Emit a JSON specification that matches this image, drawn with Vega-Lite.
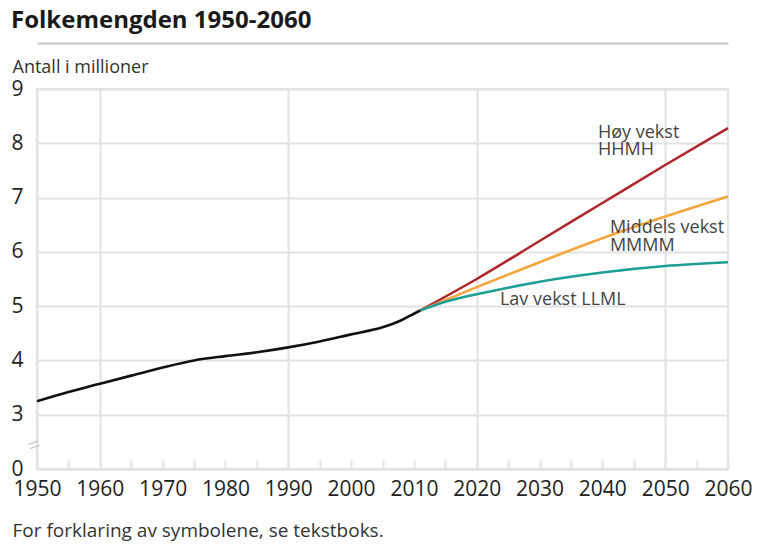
{
  "$schema": "https://vega.github.io/schema/vega-lite/v6.json",
  "width": 691,
  "height": 380,
  "autosize": {"type": "none"},
  "padding": {"left": 37, "top": 89, "right": 30, "bottom": 79},
  "background": "white",
  "title": {
    "text": "Folkemengden 1950-2060",
    "anchor": "start",
    "frame": "group",
    "dx": -26,
    "dy": 23,
    "offset": 14,
    "baseline": "alphabetic",
    "fontSize": 24,
    "fontWeight": "bold",
    "font": "Open Sans",
    "color": "#1a1a1a"
  },
  "config": {
    "font": "Open Sans",
    "view": {"stroke": "#e2e2e2", "strokeWidth": 2}
  },
  "resolve": {"axis": {"x": "independent"}},
  "layer": [
    {
      "data": {
        "values": [
          {"year": 2011, "value": 4.92, "series": "Høy"},
          {"year": 2020, "value": 5.5, "series": "Høy"},
          {"year": 2030, "value": 6.2, "series": "Høy"},
          {"year": 2040, "value": 6.9, "series": "Høy"},
          {"year": 2050, "value": 7.6, "series": "Høy"},
          {"year": 2060, "value": 8.28, "series": "Høy"},
          {"year": 2011, "value": 4.92, "series": "Middels"},
          {"year": 2020, "value": 5.35, "series": "Middels"},
          {"year": 2030, "value": 5.81, "series": "Middels"},
          {"year": 2040, "value": 6.25, "series": "Middels"},
          {"year": 2050, "value": 6.65, "series": "Middels"},
          {"year": 2060, "value": 7.02, "series": "Middels"},
          {"year": 2011, "value": 4.92, "series": "Lav"},
          {"year": 2015, "value": 5.08, "series": "Lav"},
          {"year": 2020, "value": 5.22, "series": "Lav"},
          {"year": 2025, "value": 5.34, "series": "Lav"},
          {"year": 2030, "value": 5.45, "series": "Lav"},
          {"year": 2040, "value": 5.62, "series": "Lav"},
          {"year": 2050, "value": 5.74, "series": "Lav"},
          {"year": 2060, "value": 5.81, "series": "Lav"},
          {"year": 1950, "value": 3.25, "series": "Registrert"},
          {"year": 1955, "value": 3.42, "series": "Registrert"},
          {"year": 1960, "value": 3.57, "series": "Registrert"},
          {"year": 1965, "value": 3.72, "series": "Registrert"},
          {"year": 1970, "value": 3.87, "series": "Registrert"},
          {"year": 1975, "value": 4.0, "series": "Registrert"},
          {"year": 1980, "value": 4.08, "series": "Registrert"},
          {"year": 1985, "value": 4.15, "series": "Registrert"},
          {"year": 1990, "value": 4.24, "series": "Registrert"},
          {"year": 1995, "value": 4.35, "series": "Registrert"},
          {"year": 2000, "value": 4.48, "series": "Registrert"},
          {"year": 2005, "value": 4.61, "series": "Registrert"},
          {"year": 2008, "value": 4.74, "series": "Registrert"},
          {"year": 2010, "value": 4.86, "series": "Registrert"},
          {"year": 2011, "value": 4.92, "series": "Registrert"}
        ]
      },
      "mark": {"type": "line", "strokeWidth": 2.6, "interpolate": "monotone"},
      "encoding": {
        "x": {
          "field": "year",
          "type": "quantitative",
          "scale": {"domain": [1950, 2060], "nice": false, "zero": false},
          "axis": {
            "values": [1950, 1955, 1960, 1965, 1970, 1975, 1980, 1985, 1990, 1995, 2000, 2005, 2010, 2015, 2020, 2025, 2030, 2035, 2040, 2045, 2050, 2055, 2060],
            "labelExpr": "datum.value % 10 === 0 ? datum.label : ''",
            "format": "d",
            "grid": true,
            "gridColor": "#e2e2e2",
            "gridWidth": 2,
            "gridOpacity": {"condition": {"test": "(datum.value - 1960) % 30 === 0", "value": 1}, "value": 0},
            "tickSize": -9,
            "tickColor": "#e2e2e2",
            "tickWidth": 2,
            "domainColor": "#e2e2e2",
            "domainWidth": 2,
            "labelFontSize": 21,
            "labelColor": "#222222",
            "labelPadding": 18,
            "labelFlush": false,
            "labelOverlap": false,
            "labelBound": false,
            "title": "For forklaring av symbolene, se tekstboks.",
            "titleX": -25,
            "titleY": 67,
            "titleAlign": "left",
            "titleAnchor": "start",
            "titleBaseline": "alphabetic",
            "titleFontWeight": "normal",
            "titleFontSize": 19,
            "titleColor": "#333333"
          }
        },
        "y": {
          "field": "value",
          "type": "quantitative",
          "scale": {"domain": [2, 9], "nice": false, "zero": false},
          "axis": {
            "values": [2, 3, 4, 5, 6, 7, 8, 9],
            "format": "d",
            "labelExpr": "datum.value === 2 ? '0' : datum.label",
            "ticks": false,
            "domainColor": "#e2e2e2",
            "domainWidth": 2,
            "gridColor": "#e2e2e2",
            "gridWidth": 2,
            "labelFontSize": 21,
            "labelColor": "#222222",
            "labelPadding": 14,
            "labelFlush": false,
            "labelOverlap": false,
            "title": "Antall i millioner",
            "titleAngle": 0,
            "titleAlign": "left",
            "titleAnchor": "start",
            "titleBaseline": "alphabetic",
            "titleX": -25,
            "titleY": -17,
            "titleFontSize": 18,
            "titleFontWeight": "normal",
            "titleColor": "#333333"
          }
        },
        "color": {
          "field": "series",
          "type": "nominal",
          "scale": {"domain": ["Høy", "Middels", "Lav", "Registrert"], "range": ["#b0262c", "#f5a53a", "#1f9e97", "#111111"]},
          "legend": null
        }
      }
    },
    {
      "data": {
        "values": [
          {"label": "Høy vekst", "year": 2039.3, "value": 8.1},
          {"label": "HHMH", "year": 2039.3, "value": 7.79},
          {"label": "Middels vekst", "year": 2041.2, "value": 6.35},
          {"label": "MMMM", "year": 2041.2, "value": 6.02},
          {"label": "Lav vekst LLML", "year": 2023.7, "value": 5.02}
        ]
      },
      "mark": {"type": "text", "align": "left", "baseline": "alphabetic", "fontSize": 18, "color": "#444444"},
      "encoding": {
        "x": {
          "field": "year",
          "type": "quantitative",
          "axis": {
            "orient": "top",
            "offset": 46,
            "labels": false,
            "ticks": false,
            "grid": false,
            "title": null,
            "domainColor": "#c8c8c8",
            "domainWidth": 2
          }
        },
        "y": {"field": "value", "type": "quantitative", "title": "Antall i millioner"},
        "text": {"field": "label"}
      }
    },
    {
      "data": {"values": [{"year": 1950, "value": 2.45, "mark": "="}]},
      "mark": {"type": "text", "angle": -20, "fontSize": 22, "dx": -3, "color": "#cccccc"},
      "encoding": {
        "x": {"field": "year", "type": "quantitative", "axis": null},
        "y": {"field": "value", "type": "quantitative", "title": "Antall i millioner"},
        "text": {"field": "mark"}
      }
    }
  ]
}
